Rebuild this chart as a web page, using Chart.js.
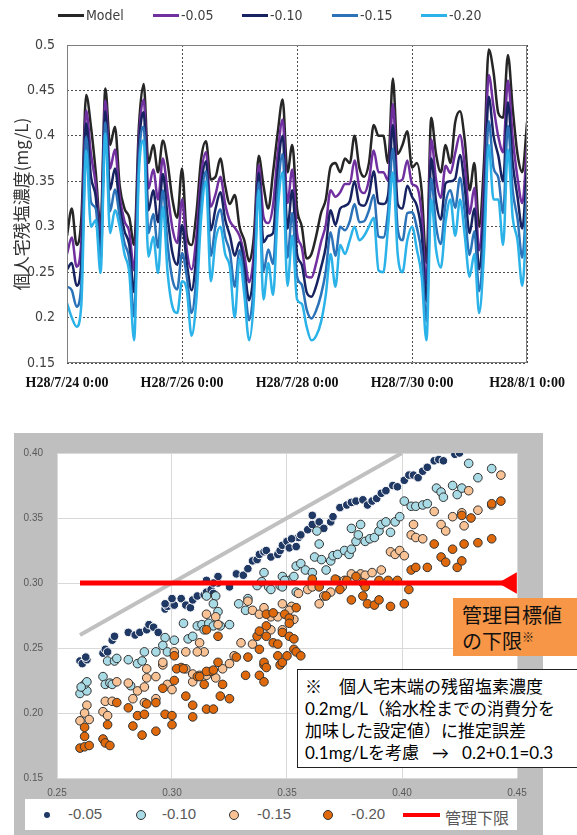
<!DOCTYPE html>
<html lang="ja">
<head>
<meta charset="utf-8">
<title>個人宅残塩濃度</title>
<script src="https://cdn.jsdelivr.net/npm/chart.js@4.4.1/dist/chart.umd.min.js"></script>
<style>
html,body{margin:0;padding:0;background:#fff;}
body{position:relative;width:577px;height:835px;overflow:hidden;font-family:'Liberation Sans','Noto Sans CJK JP',sans-serif;}
#c1{position:absolute;left:0;top:0;width:577px;height:410px;}
#c2{position:absolute;left:14px;top:433px;width:529px;height:402px;}
.abs{position:absolute;white-space:nowrap;}
.lg1{top:7px;height:16px;display:flex;align-items:center;font:14px 'Liberation Sans Narrow','DejaVu Sans Condensed','Liberation Sans',sans-serif;color:#404040;}
.lg1 .sw{display:inline-block;width:26px;height:3px;margin-right:2px;}
.lg2t{top:805px;height:20px;line-height:20px;font:15px 'Liberation Sans',sans-serif;color:#595959;}
.mk{position:absolute;border-radius:50%;box-sizing:border-box;}
#note{left:297px;top:669px;width:300px;height:99px;box-sizing:border-box;border:1px solid #222;background:#fff;padding:6px 0 0 7px;font:17px 'Lato','Noto Sans CJK JP',sans-serif;line-height:22px;color:#000;}
#tag{left:453px;top:598px;width:130px;height:58px;box-sizing:border-box;background:#f79646;padding:4px 0 0 9px;font:20px 'Noto Sans CJK JP',sans-serif;line-height:26px;color:#111;}
#tag sup{font-size:12px;vertical-align:top;line-height:18px;}
</style>
</head>
<body>
<canvas id="c1" width="577" height="410"></canvas>
<canvas id="c2" width="529" height="402"></canvas>

<div class="abs" style="left:25px;top:799px;width:492px;height:31px;background:#fff;"></div>
<div class="mk" style="left:44px;top:812px;width:6px;height:6px;background:#1f3864;"></div>
<div class="abs lg2t" style="left:68px;">-0.05</div>
<div class="mk" style="left:136px;top:810px;width:10px;height:10px;background:#a8dbe6;border:1px solid #333;"></div>
<div class="abs lg2t" style="left:162px;">-0.10</div>
<div class="mk" style="left:229px;top:810px;width:10px;height:10px;background:#f9c294;border:1px solid #333;"></div>
<div class="abs lg2t" style="left:257px;">-0.15</div>
<div class="mk" style="left:323px;top:810px;width:10px;height:10px;background:#e06a0b;border:1px solid #333;"></div>
<div class="abs lg2t" style="left:351px;">-0.20</div>
<div class="abs" style="left:403px;top:813px;width:37px;height:4px;background:#ff0000;"></div>
<div class="abs lg2t" style="left:445px;font:16px 'Noto Sans CJK JP',sans-serif;">管理下限</div>

<div id="tag" class="abs">管理目標値<br>の下限<sup>※</sup></div>
<div id="note" class="abs">※　個人宅末端の残留塩素濃度<br>0.2mg/L（給水栓までの消費分を<br>加味した設定値）に推定誤差<br>0.1mg/Lを考慮&nbsp;&nbsp;&nbsp;→&nbsp;&nbsp;&nbsp;0.2+0.1=0.3</div>

<script>
// ---------- top chart data (2-hour steps, H28/7/24 0:00 – H28/8/1 0:00) ----------
const hours = Array.from({length: 97}, (_, i) => i * 2);
const xTickHours = [0, 48, 96, 144, 192];
const xTickLabels = ['H28/7/24 0:00', 'H28/7/26 0:00', 'H28/7/28 0:00', 'H28/7/30 0:00', 'H28/8/1 0:00'];
const seriesNames = ['Model', '-0.05', '-0.10', '-0.15', '-0.20'];
const yTitle = '個人宅残塩濃度(mg/L)';

const model = [0.29,0.32,0.28,0.31,0.445,0.41,0.36,0.30,0.452,0.39,0.41,0.345,0.32,0.31,0.28,0.41,0.457,0.37,0.39,0.36,0.395,0.37,0.33,0.31,0.364,
0.29,0.28,0.315,0.375,0.394,0.352,0.355,0.375,0.345,0.325,0.335,0.30,0.285,0.262,0.29,0.378,0.345,0.32,0.36,0.405,0.44,0.36,0.39,0.32,
0.30,0.265,0.27,0.29,0.315,0.33,0.366,0.37,0.36,0.375,0.37,0.40,0.365,0.355,0.37,0.412,0.40,0.40,0.37,0.463,0.38,0.39,0.405,0.365,
0.37,0.34,0.26,0.42,0.38,0.36,0.39,0.37,0.415,0.427,0.395,0.34,0.37,0.30,0.37,0.495,0.47,0.425,0.42,0.489,0.43,0.38,0.36,0.415];

const s005 = [0.270,0.288,0.256,0.285,0.428,0.38,0.346,0.286,0.439,0.364,0.385,0.333,0.306,0.294,0.252,0.396,0.44,0.342,0.363,0.33,0.375,0.337,0.298,0.282,0.33,
0.274,0.253,0.289,0.357,0.382,0.322,0.336,0.355,0.325,0.306,0.299,0.29,0.269,0.239,0.271,0.368,0.311,0.304,0.324,0.382,0.418,0.326,0.363,0.293,
0.277,0.245,0.244,0.26,0.283,0.302,0.34,0.333,0.338,0.347,0.347,0.373,0.343,0.337,0.351,0.384,0.36,0.36,0.351,0.435,0.35,0.352,0.373,0.347,
0.344,0.314,0.237,0.396,0.352,0.332,0.367,0.359,0.381,0.401,0.367,0.314,0.343,0.274,0.343,0.467,0.432,0.399,0.382,0.461,0.398,0.354,0.326,0.389];

const s010 = [0.253,0.26,0.235,0.262,0.414,0.355,0.333,0.275,0.427,0.341,0.364,0.322,0.295,0.28,0.228,0.385,0.426,0.318,0.34,0.305,0.358,0.31,0.271,0.258,0.302,
0.26,0.23,0.268,0.343,0.372,0.296,0.32,0.338,0.308,0.29,0.268,0.283,0.255,0.219,0.255,0.359,0.283,0.29,0.293,0.363,0.40,0.298,0.34,0.27,
0.258,0.228,0.223,0.235,0.255,0.278,0.318,0.302,0.32,0.323,0.328,0.35,0.325,0.323,0.335,0.361,0.326,0.325,0.335,0.412,0.325,0.32,0.345,0.333,
0.323,0.293,0.218,0.375,0.328,0.308,0.348,0.35,0.353,0.379,0.343,0.293,0.32,0.253,0.32,0.443,0.40,0.378,0.35,0.437,0.37,0.333,0.298,0.368];

const s015 = [0.234,0.23,0.212,0.238,0.399,0.327,0.32,0.262,0.415,0.317,0.341,0.311,0.282,0.264,0.201,0.372,0.41,0.293,0.314,0.277,0.34,0.28,0.242,0.231,0.271,
0.245,0.205,0.244,0.326,0.361,0.268,0.302,0.319,0.289,0.272,0.234,0.274,0.24,0.197,0.237,0.349,0.251,0.275,0.259,0.341,0.38,0.266,0.315,0.245,
0.236,0.209,0.199,0.208,0.225,0.251,0.294,0.268,0.30,0.296,0.306,0.325,0.305,0.306,0.318,0.335,0.289,0.288,0.318,0.386,0.298,0.285,0.315,0.316,
0.299,0.269,0.196,0.353,0.301,0.281,0.326,0.34,0.321,0.354,0.316,0.269,0.295,0.229,0.295,0.416,0.365,0.354,0.315,0.411,0.34,0.309,0.266,0.344];

const s020 = [0.216,0.20,0.19,0.215,0.384,0.30,0.307,0.249,0.403,0.293,0.318,0.30,0.27,0.249,0.175,0.359,0.395,0.267,0.289,0.249,0.322,0.249,0.212,0.205,0.24,
0.23,0.18,0.22,0.31,0.35,0.24,0.285,0.30,0.27,0.255,0.20,0.265,0.225,0.175,0.22,0.34,0.22,0.26,0.225,0.32,0.36,0.235,0.29,0.22,
0.215,0.19,0.175,0.18,0.195,0.225,0.27,0.234,0.28,0.27,0.285,0.30,0.285,0.29,0.30,0.31,0.252,0.25,0.30,0.36,0.27,0.25,0.285,0.30,
0.275,0.245,0.175,0.33,0.275,0.255,0.305,0.33,0.29,0.33,0.29,0.245,0.27,0.205,0.27,0.39,0.33,0.33,0.28,0.385,0.31,0.285,0.235,0.32];

// ---------- bottom chart data: [x = model, y = adjusted] ----------
const sc005 = [[0.260,0.240],[0.261,0.238],[0.263,0.241],[0.2625,0.243],[0.270,0.246],[0.271,0.249],[0.272,0.247],[0.274,0.256],[0.275,0.259],
[0.281,0.262],[0.284,0.260],[0.286,0.262],[0.289,0.264],[0.290,0.268],[0.292,0.266],[0.294,0.262],[0.297,0.280],[0.298,0.282],[0.300,0.284],[0.301,0.283],[0.300,0.288],[0.297,0.284],
[0.304,0.288],[0.306,0.283],[0.308,0.281],[0.309,0.287],[0.311,0.290],[0.314,0.291],[0.315,0.293],[0.317,0.295],[0.318,0.292],[0.320,0.300],[0.320,0.305],[0.318,0.300],[0.315,0.302],
[0.325,0.297],[0.328,0.307],[0.331,0.306],[0.333,0.311],[0.335,0.317],[0.337,0.318],[0.338,0.322],[0.340,0.324],[0.341,0.325],[0.343,0.320],[0.346,0.322],[0.347,0.325],[0.348,0.329],[0.350,0.332],[0.351,0.327],[0.354,0.328],[0.355,0.335],
[0.352,0.334],[0.356,0.337],[0.359,0.341],[0.361,0.345],[0.361,0.352],[0.364,0.347],[0.366,0.342],[0.369,0.347],[0.370,0.351],[0.373,0.358],[0.376,0.360],[0.378,0.362],[0.380,0.363],[0.383,0.364],[0.385,0.360],[0.387,0.363],[0.389,0.365],[0.391,0.369],[0.393,0.371],[0.396,0.375],[0.398,0.374],[0.401,0.379],[0.403,0.383],[0.405,0.383],[0.407,0.381],[0.409,0.386],[0.411,0.389],[0.414,0.394],[0.416,0.395],[0.418,0.394],[0.423,0.399],[0.425,0.400]];

const sc010 = [[0.260,0.215],[0.262,0.219],[0.263,0.217],[0.262,0.222],[0.263,0.224],[0.2605,0.220],[0.270,0.228],[0.271,0.222],[0.273,0.223],[0.274,0.222],[0.282,0.221],
[0.272,0.240],[0.275,0.240],[0.276,0.242],[0.281,0.241],[0.285,0.238],[0.287,0.240],[0.288,0.247],[0.293,0.247],
[0.297,0.258],[0.296,0.252],[0.298,0.247],[0.301,0.256],[0.305,0.269],[0.307,0.257],[0.309,0.259],[0.311,0.267],[0.313,0.268],[0.314,0.264],[0.316,0.269],[0.318,0.267],[0.321,0.267],[0.325,0.268],[0.320,0.278],[0.319,0.290],[0.315,0.290],[0.318,0.284],
[0.329,0.284],[0.332,0.279],[0.333,0.288],[0.337,0.298],[0.339,0.301],[0.340,0.308],[0.342,0.297],[0.343,0.295],[0.347,0.298],[0.348,0.305],[0.351,0.302],[0.354,0.313],[0.354,0.293],
[0.349,0.302],[0.353,0.305],[0.348,0.297],[0.356,0.315],[0.358,0.310],[0.361,0.308],[0.362,0.320],[0.364,0.330],[0.363,0.340],[0.365,0.318],[0.367,0.310],[0.369,0.317],[0.370,0.321],[0.372,0.322],[0.375,0.325],[0.377,0.322],[0.378,0.326],[0.380,0.332],[0.381,0.337],[0.378,0.342],[0.382,0.345],
[0.384,0.332],[0.386,0.334],[0.388,0.335],[0.390,0.340],[0.391,0.345],[0.393,0.347],[0.395,0.339],[0.397,0.347],[0.399,0.351],[0.401,0.363],[0.404,0.359],[0.406,0.359],[0.409,0.360],[0.411,0.361],[0.415,0.373],[0.417,0.370],[0.418,0.366],[0.422,0.375],[0.424,0.368],[0.426,0.373],[0.429,0.392],[0.433,0.381],[0.439,0.388]];

const sc015 = [[0.263,0.206],[0.262,0.200],[0.264,0.195],[0.260,0.194],[0.270,0.201],[0.272,0.198],[0.271,0.209],[0.274,0.209],[0.276,0.224],
[0.281,0.223],[0.285,0.217],[0.283,0.211],[0.288,0.220],[0.289,0.227],[0.293,0.228],[0.293,0.211],[0.288,0.208],
[0.298,0.222],[0.300,0.218],[0.309,0.224],[0.309,0.230],[0.312,0.229],[0.315,0.229],[0.319,0.227],[0.322,0.234],[0.325,0.238],
[0.289,0.234],[0.296,0.237],[0.306,0.234],[0.296,0.239],
[0.315,0.276],[0.319,0.274],[0.320,0.268],[0.312,0.254],[0.314,0.247],[0.311,0.247],[0.306,0.247],[0.301,0.247],
[0.333,0.286],[0.335,0.279],[0.338,0.276],[0.340,0.281],[0.343,0.274],[0.346,0.274],[0.348,0.284],[0.352,0.282],[0.353,0.272],[0.348,0.264],[0.343,0.264],[0.335,0.253],[0.330,0.254],[0.327,0.244],
[0.351,0.279],[0.355,0.292],[0.359,0.295],[0.361,0.297],[0.364,0.284],[0.366,0.290],[0.369,0.293],[0.372,0.302],[0.374,0.297],[0.375,0.302],[0.378,0.307],[0.382,0.307],[0.384,0.306],[0.387,0.308],[0.391,0.310],
[0.395,0.324],[0.397,0.322],[0.399,0.325],[0.401,0.321],[0.404,0.337],[0.406,0.335],[0.405,0.345],[0.409,0.334],[0.414,0.355],[0.417,0.345],[0.419,0.340],[0.422,0.351],[0.426,0.354],[0.427,0.344],[0.429,0.371],[0.433,0.356],[0.439,0.360],[0.443,0.383]];

const sc020 = [[0.260,0.173],[0.262,0.174],[0.264,0.175],[0.262,0.182],[0.262,0.189],[0.270,0.180],[0.271,0.177],[0.273,0.175],[0.272,0.191],[0.276,0.208],
[0.281,0.204],[0.283,0.190],[0.287,0.183],[0.285,0.198],[0.288,0.199],[0.289,0.207],[0.293,0.208],[0.293,0.186],
[0.297,0.199],[0.300,0.191],[0.300,0.198],[0.296,0.219],[0.301,0.225],[0.306,0.213],[0.309,0.206],[0.309,0.197],[0.315,0.203],[0.318,0.203],[0.321,0.213],[0.325,0.211],[0.314,0.222],[0.322,0.222],[0.332,0.229],[0.338,0.229],[0.340,0.224],[0.311,0.228],[0.304,0.235],[0.317,0.232],[0.340,0.237],[0.347,0.237],
[0.315,0.264],[0.320,0.259],[0.301,0.244],[0.302,0.234],[0.305,0.234],[0.312,0.228],[0.315,0.232],[0.318,0.233],[0.320,0.239],[0.328,0.243],[0.333,0.243],
[0.337,0.259],[0.338,0.263],[0.341,0.267],[0.341,0.259],[0.344,0.254],[0.346,0.253],[0.348,0.262],[0.351,0.259],[0.353,0.249],[0.354,0.247],[0.338,0.249],[0.340,0.239],[0.341,0.235],[0.346,0.244],[0.348,0.239],[0.341,0.276],[0.344,0.277],[0.349,0.276],[0.351,0.273],[0.354,0.281],
[0.351,0.269],[0.353,0.257],[0.356,0.244],[0.350,0.244],
[0.361,0.303],[0.364,0.297],[0.367,0.290],[0.371,0.303],[0.373,0.295],[0.376,0.302],[0.380,0.305],[0.383,0.300],[0.384,0.297],[0.383,0.290],[0.385,0.284],[0.388,0.283],[0.390,0.287],[0.390,0.302],[0.394,0.302],[0.398,0.302],[0.403,0.295],[0.378,0.287],[0.395,0.282],[0.401,0.284],
[0.404,0.310],[0.406,0.312],[0.411,0.312],[0.414,0.330],[0.417,0.320],[0.419,0.316],[0.422,0.326],[0.424,0.312],[0.426,0.317],[0.427,0.330],[0.433,0.331],[0.439,0.334],[0.426,0.352],[0.430,0.350],[0.439,0.361],[0.443,0.363]];

const refLineX = [0.26, 0.40], refLineY = [0.26, 0.40];
const limitX = [0.26, 0.445], limitY = [0.30, 0.30];
const limitMarkX = [0.4472], limitMarkY = [0.30];
const scNames = ['-0.05', '-0.10', '-0.15', '-0.20', '管理下限'];

// ---------- styles ----------
const seriesColors = ['#262626', '#7030a0', '#172361', '#2b72b9', '#2bb2e8'];
const scFill = ['#1f3864', '#a8dbe6', '#f9c294', '#e06a0b'];
const scBorder = ['#ffffff', '#333333', '#333333', '#333333'];
const narrowFont = "'Liberation Sans Narrow','DejaVu Sans Condensed','Liberation Sans',sans-serif";

Chart.defaults.font.family = "'Liberation Sans',sans-serif";

// top legend (HTML)
const lg1X = [58, 153, 242, 332, 421];
seriesNames.forEach((name, i) => {
  const d = document.createElement('div');
  d.className = 'abs lg1';
  d.style.left = lg1X[i] + 'px';
  d.innerHTML = '<span class="sw" style="background:' + seriesColors[i] + '"></span><span>' + name + '</span>';
  document.body.appendChild(d);
});

const toXY = ys => ys.map((v, i) => ({x: hours[i], y: v}));
const toPts = arr => arr.map(p => ({x: p[0], y: p[1]}));
const zipPts = (xs, ys) => xs.map((x, i) => ({x: x, y: ys[i]}));

const plotBorder = {
  id: 'plotBorder',
  afterDraw(chart, args, opts) {
    const {ctx, chartArea: a} = chart;
    ctx.save();
    ctx.strokeStyle = opts.color || '#808080';
    ctx.lineWidth = 1;
    ctx.strokeRect(Math.round(a.left) + 0.5, Math.round(a.top) + 0.5, Math.round(a.right - a.left) - 1, Math.round(a.bottom - a.top) - 1);
    ctx.restore();
  }
};

const seriesData = [model, s005, s010, s015, s020];
new Chart(document.getElementById('c1'), {
  type: 'line',
  data: {
    datasets: seriesData.map((d, i) => ({
      label: seriesNames[i],
      data: toXY(d),
      borderColor: seriesColors[i],
      backgroundColor: seriesColors[i],
      borderWidth: 2.5,
      pointRadius: 0,
      tension: 0.3,
      cubicInterpolationMode: 'monotone',
      fill: false,
      order: 5 - i
    }))
  },
  options: {
    responsive: false,
    animation: false,
    events: [],
    layout: {padding: {left: 0, right: 46, top: 45, bottom: 0}},
    plugins: {legend: {display: false}, tooltip: {enabled: false}, plotBorder: {color: '#7f7f7f'}},
    scales: {
      x: {
        type: 'linear', min: 0, max: 192,
        afterFit: s => { s.height = 47; },
        grid: {color: '#4d4d4d', lineWidth: 1, drawTicks: false},
        border: {display: false, dash: [2, 2]},
        ticks: {
          stepSize: 48, autoSkip: false, maxRotation: 0, minRotation: 0, padding: 12, color: '#111',
          font: {family: "'Liberation Serif','Times New Roman',serif", size: 14, weight: 'bold'},
          callback: v => { const i = xTickHours.indexOf(v); return i < 0 ? '' : xTickLabels[i]; }
        }
      },
      y: {
        min: 0.15, max: 0.5,
        afterFit: s => { s.width = 67; },
        grid: {color: '#4d4d4d', lineWidth: 1, drawTicks: false},
        border: {display: false, dash: [2, 2]},
        ticks: {stepSize: 0.05, padding: 12, color: '#404040', font: {family: narrowFont, size: 14},
          callback: v => String(+v.toFixed(2))},
        title: {display: true, text: yTitle, color: '#333', font: {family: "'Noto Sans CJK JP',sans-serif", size: 17}, padding: {top: 11, bottom: 0}}
      }
    }
  },
  plugins: [plotBorder]
});

const panelBg = {
  id: 'panelBg',
  beforeDraw(chart, args, opts) {
    const {ctx, chartArea: a, width, height} = chart;
    ctx.save();
    ctx.fillStyle = opts.outer;
    ctx.fillRect(0, 0, width, height);
    ctx.fillStyle = opts.inner;
    ctx.fillRect(a.left, a.top, a.right - a.left, a.bottom - a.top);
    ctx.restore();
  }
};

const scSets = [sc005, sc010, sc015, sc020];
const scatterDatasets = scSets.map((s, i) => ({
  label: scNames[i],
  data: toPts(s),
  backgroundColor: scFill[i],
  borderColor: scBorder[i],
  borderWidth: 1,
  pointRadius: 4.3,
  order: 5 - i
}));
scatterDatasets.push({
  label: 'y=x',
  data: zipPts(refLineX, refLineY),
  showLine: true, borderColor: '#c0c0c0', borderWidth: 4, pointRadius: 0, order: 1
});
scatterDatasets.push({
  label: scNames[4],
  data: zipPts(limitX, limitY),
  showLine: true, borderColor: '#ff0000', borderWidth: 5, pointRadius: 0, order: 0
});
scatterDatasets.push({
  label: scNames[4] + ' ▶',
  data: zipPts(limitMarkX, limitMarkY),
  pointStyle: 'triangle', rotation: 270, pointRadius: 12.5, backgroundColor: '#ff0000', borderWidth: 0, clip: false, order: 0
});

new Chart(document.getElementById('c2'), {
  type: 'scatter',
  data: {datasets: scatterDatasets},
  options: {
    responsive: false,
    animation: false,
    events: [],
    layout: {padding: {left: 0, right: 26, top: 14, bottom: 0}},
    plugins: {legend: {display: false}, tooltip: {enabled: false}, panelBg: {outer: '#bfbfbf', inner: '#ffffff'}},
    scales: {
      x: {
        type: 'linear', min: 0.25, max: 0.45,
        afterFit: s => { s.height = 57; },
        grid: {color: '#d9d9d9', lineWidth: 1, drawTicks: false},
        border: {display: false},
        ticks: {stepSize: 0.05, padding: 9, color: '#595959', font: {size: 10}, callback: v => v.toFixed(2)}
      },
      y: {
        min: 0.15, max: 0.40,
        afterFit: s => { s.width = 43; },
        grid: {color: '#d9d9d9', lineWidth: 1, drawTicks: false},
        border: {display: false},
        ticks: {stepSize: 0.05, padding: 14, color: '#595959', font: {size: 10}, callback: v => v.toFixed(2)}
      }
    }
  },
  plugins: [panelBg]
});
</script>
</body>
</html>
